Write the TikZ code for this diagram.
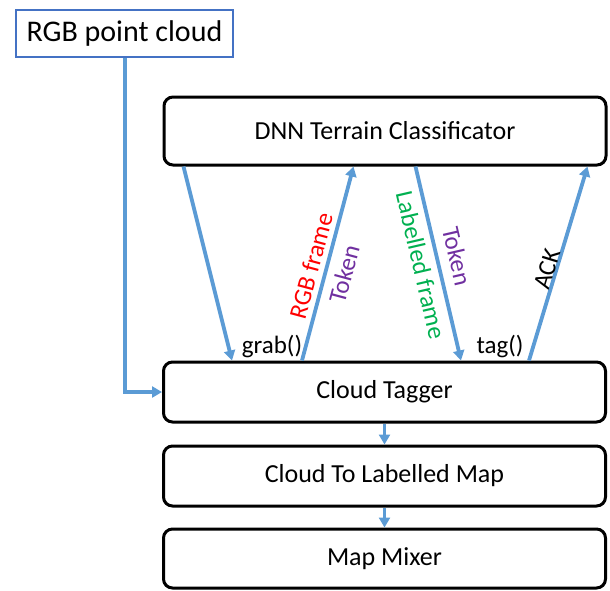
\documentclass[tikz,border=0pt]{standalone}
\usepackage{fontspec}
\setmainfont{Carlito}
\usetikzlibrary{arrows.meta,calc}
\definecolor{flowblue}{HTML}{5B9BD5}
\definecolor{srcblue}{HTML}{4472C4}
\definecolor{tokpurple}{HTML}{7030A0}
\definecolor{lblgreen}{HTML}{00B050}
\begin{document}
\begin{tikzpicture}[x=1pt,y=-1pt,
  module/.style={draw=black,line width=3pt,rounded corners=9pt,fill=white,
    minimum width=442pt,inner sep=0pt,font=\fontsize{26}{30}\selectfont},
  source/.style={draw=srcblue,line width=1.8pt,fill=white,minimum width=217pt,
    minimum height=47pt,inner sep=0pt,font=\fontsize{30}{34}\selectfont},
  flow/.style={draw=flowblue,line width=3.8pt,
    -{Triangle[width=11pt,length=10pt]}},
  msg/.style={font=\fontsize{25}{29}\selectfont,inner sep=0pt}]
\useasboundingbox (0,0) rectangle (610,590);

% components
\node[source] (rgb) at (124.5,33.5) {RGB point cloud};
\node[module,minimum height=68pt] (dnn) at (385,131) {DNN Terrain Classificator};
\node[module,minimum height=60pt] (tagger) at (384.5,392) {Cloud Tagger};
\node[module,minimum height=60pt] (tolmap) at (384.5,476) {Cloud To Labelled Map};
\node[module,minimum height=59pt] (mixer) at (384.5,558.5) {Map Mixer};

% point cloud input
\draw[flow] ([xshift=0.5pt]rgb.south) |- (tagger.west);

% exchanges between classifier and tagger
\draw[flow] ([xshift=21pt]dnn.south west) -- ([xshift=70pt]tagger.north west);
\draw[flow] ([xshift=140pt]tagger.north west) -- ([xshift=191pt]dnn.south west);
\draw[flow] ([xshift=253pt]dnn.south west) -- ([xshift=299pt]tagger.north west);
\draw[flow] ([xshift=367pt]tagger.north west) -- ([xshift=425pt]dnn.south west);

% pipeline
\draw[flow] (tagger.south) -- (tolmap.north);
\draw[flow] (tolmap.south) -- (mixer.north);

% message labels
\node[msg] (grab) at (272,346) {grab()};
\node[msg] (tag) at (500,346) {tag()};
\node[msg,text=red,rotate=75] (rgbframe) at (311,266) {RGB frame};
\node[msg,text=tokpurple,rotate=75] (tok1) at (344,274) {Token};
\node[msg,text=lblgreen,rotate=-77] (lblframe) at (421,265) {Labelled frame};
\node[msg,text=tokpurple,rotate=-77] (tok2) at (457,256) {Token};
\node[msg,rotate=73] (ack) at (547,269) {ACK};
\end{tikzpicture}
\end{document}
